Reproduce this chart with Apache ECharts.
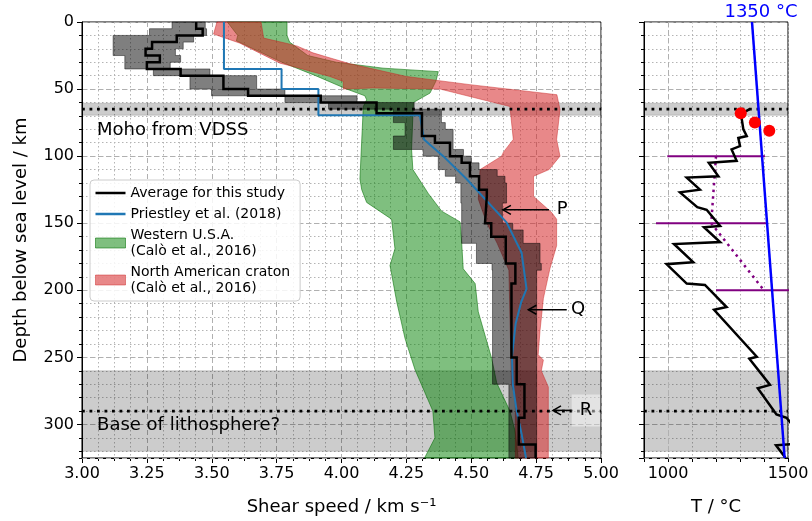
<!DOCTYPE html>
<html>
<head>
<meta charset="utf-8">
<script src="https://cdn.jsdelivr.net/npm/echarts@6/dist/echarts.min.js"></script>
<style>
html,body{margin:0;padding:0;background:#ffffff;}
#chart{width:812px;height:521px;}
</style>
</head>
<body>
<div id="chart"></div>
<script>
// ================= DATA =================
// Average for this study (stepped): layer boundaries (km) and shear speed per layer (km/s)
const avgDepth = [0,5,10,15,20,25,30,35,40,50,55,60,68,85,90,100,105,115,125,130,150,160,180,195,250,270,295,315,325];
const avgVs    = [3.44,3.465,3.365,3.27,3.245,3.30,3.25,3.38,3.545,3.64,3.92,4.135,4.31,4.36,4.418,4.463,4.495,4.53,4.56,4.553,4.577,4.633,4.67,4.655,4.675,4.705,4.683,4.748];

// Uncertainty envelope of the average (stepped)
const envDepth = [0,5,10,15,20,25,30,35,40,50,55,60,65,75,80,85,95,100,105,110,115,120,135,150,155,165,180,185,270,325];
const envLeft  = [3.347,3.26,3.12,3.12,3.12,3.165,3.165,3.275,3.416,3.499,3.782,3.95,4.20,4.245,4.245,4.20,4.315,4.373,4.373,4.40,4.44,4.46,4.463,4.463,4.463,4.52,4.58,4.582,4.645];
const envRight = [3.475,3.48,3.43,3.39,3.36,3.38,3.34,3.493,3.673,3.782,4.06,4.28,4.385,4.40,4.43,4.43,4.47,4.50,4.53,4.60,4.63,4.636,4.62,4.66,4.70,4.765,4.77,4.752,4.752];

// Priestley et al. (2018)
const priDepth = [0,35,35,50,50,69.5,69.5,87.5,100,117,149.4,172,199,209,225,249,270,290,307,325];
const priVs    = [3.547,3.547,3.769,3.769,3.911,3.911,4.302,4.318,4.392,4.482,4.636,4.694,4.713,4.692,4.671,4.657,4.66,4.675,4.694,4.711];

// Western U.S.A. (Calò et al., 2016): left and right edges
const wusLeftDepth  = [0,5,10,14,20,30,40,50,55,58,63,117,125,134.5,147,169,181.5,208.7,236,259,290,310,325];
const wusLeftVs     = [3.56,3.58,3.60,3.595,3.66,3.77,3.90,4.02,4.09,4.097,4.084,4.071,4.078,4.097,4.193,4.206,4.187,4.213,4.245,4.283,4.352,4.36,4.32];
const wusRightDepth = [0,10,15,25,30,34.4,37,44,53,60,95,110,128,141,149,164,184,195,216,251,269,290,305,325];
const wusRightVs    = [3.79,3.79,3.80,3.87,3.98,4.16,4.373,4.364,4.341,4.277,4.27,4.275,4.335,4.386,4.457,4.463,4.469,4.515,4.527,4.579,4.598,4.649,4.669,4.681];

// North American craton (Calò et al., 2016): outline
const nacVs    = [3.52,3.69,3.70,3.79,3.83,3.89,3.96,4.03,4.25,4.495,4.83,4.842,4.829,4.842,4.80,4.74,4.74,4.81,4.829,4.829,4.803,4.778,4.765,4.758,4.778,4.77,4.797,4.797,4.67,4.67,4.655,4.645,4.60,4.56,4.527,4.534,4.617,4.624,4.662,4.649,4.38,4.12,4.007,4.007,3.955,3.814,3.763,3.66,3.609,3.507];
const nacDepth = [0,0,12,16,18,23,27,31,40.6,46.7,54.2,65.3,87.5,100,110,115,130,142,147,166.7,184,206,230,248,252,260,272,325,325,280,270,185,165,150,132,110,100,97,87.5,63,50,49.2,50,44.3,40.6,33.2,30.7,20.8,15.8,9];

// Reference depths (km)
const mohoDepth = 65;
const mohoBand  = [60.5, 69.5];
const lithDepth = 290;
const lithBand  = [260, 320];

// Temperature panel
const adiabatT     = [1350, 1486];
const adiabatDepth = [0, 325];
const tempT     = [1340,1305,1307,1314,1328,1293,1300,1265,1286,1170,1210,1078,1133,1050,1122,1161,1217,1150,1217,1025,1105,994,1078,1154,1244,1192,1370,1339,1425,1374,1452,1494,1530,1560,1450,1490];
const tempDepth = [65,68.5,72,80,85,86.5,92.5,95,103.5,105,115,116,125,127,138,140,152,153,164,165.5,179,180.5,195,196,212.5,214.5,249.5,251,270.5,273,292.5,295,303,314,315.5,325];
const dotT     = [1303, 1362, 1422];
const dotDepth = [68, 75, 81];
const rangeDepth = [100, 150, 200];
const rangeLo    = [997, 950, 1200];
const rangeHi    = [1404, 1411, 1600];
const midT     = [1200, 1180, 1400];
const midDepth = [100, 150, 200];

// Tick labels of the temperature axis
const tTickLabels = [1000, 1500];

// Annotations P, Q, R
const arrowLabel = ['P', 'Q', 'R'];
const arrowDepth = [140, 214.5, 289.5];
const arrowFrom  = [4.80, 4.868, 4.89];
const arrowTo    = [4.622, 4.72, 4.815];
const arrowText  = [4.85, 4.912, 4.942];

// ================= HELPERS =================
const FONT = 'DejaVu Sans';
function stepLinePoints(depths, vals) {
  const pts = [];
  for (let i = 0; i < vals.length; i++) { pts.push([vals[i], depths[i]]); pts.push([vals[i], depths[i + 1]]); }
  return pts;
}
function stepBandPoints(depths, lo, hi) {
  const pts = [];
  for (let i = 0; i < hi.length; i++) { pts.push([hi[i], depths[i]], [hi[i], depths[i + 1]]); }
  for (let i = lo.length - 1; i >= 0; i--) { pts.push([lo[i], depths[i + 1]], [lo[i], depths[i]]); }
  return pts;
}
function twoSidePoints(ld, lv, rd, rv) {
  const pts = [];
  for (let i = 0; i < ld.length; i++) pts.push([lv[i], ld[i]]);
  for (let i = rd.length - 1; i >= 0; i--) pts.push([rv[i], rd[i]]);
  return pts;
}
function zipPoints(xs, ys) { return xs.map((x, i) => [x, ys[i]]); }

function polygonSeries(name, pts, fill, stroke, z) {
  return {
    type: 'custom', name: name, xAxisIndex: 0, yAxisIndex: 0, z: z, silent: true,
    itemStyle: { color: fill, borderColor: stroke },
    data: [[4, 150]],
    renderItem: function (params, api) {
      return { type: 'polygon', shape: { points: pts.map(p => api.coord(p)) },
               style: { fill: fill, stroke: stroke, lineWidth: 1 } };
    }
  };
}
function spanSeries(gi, xMid, band, z) {
  return {
    type: 'custom', xAxisIndex: gi, yAxisIndex: gi, z: z, silent: true,
    data: [[xMid, band[0], band[1]]],
    renderItem: function (params, api) {
      const cs = params.coordSys;
      const y0 = api.coord([api.value(0), api.value(1)])[1];
      const y1 = api.coord([api.value(0), api.value(2)])[1];
      return { type: 'rect', shape: { x: cs.x, y: y0, width: cs.width, height: y1 - y0 },
               style: { fill: 'rgba(0,0,0,0.2)', stroke: 'rgba(0,0,0,0.15)', lineWidth: 1 } };
    }
  };
}
function dottedSeries(gi, xMid, depths, z) {
  return {
    type: 'custom', xAxisIndex: gi, yAxisIndex: gi, z: z, silent: true,
    data: depths.map(d => [xMid, d]),
    renderItem: function (params, api) {
      const cs = params.coordSys;
      const y = api.coord([api.value(0), api.value(1)])[1];
      return { type: 'line', shape: { x1: cs.x, y1: y, x2: cs.x + cs.width, y2: y },
               style: { stroke: '#000', lineWidth: 2.8, lineDash: [2.8, 4.7], lineCap: 'butt' } };
    }
  };
}

const gridLineDashed = { color: '#b0b0b0', width: 1, type: [5, 3] };
const gridLineDotted = { color: '#b4b4b4', width: 1, type: [1.5, 2.5] };

const legendNames = {
  'Average for this study': 'Average for this study',
  'Priestley et al. (2018)': 'Priestley et al. (2018)',
  'Western U.S.A.': 'Western U.S.A.\n(Calò et al., 2016)',
  'North American craton': 'North American craton\n(Calò et al., 2016)'
};

const greenFill = 'rgba(0,128,0,0.5)';
const greenEdge = 'rgba(0,110,0,0.55)';
const redFill = 'rgba(214,39,40,0.55)';
const redEdge = 'rgba(200,30,30,0.45)';
const lineIcon = 'path://M0,0H30V2.5H0Z';

// depth axis factory: major (labelled, dashed grid every 50 km) and minor (dotted grid every 10 km)
function depthAxisMajor(gi, withLabels) {
  return {
    gridIndex: gi, type: 'value', inverse: true, min: 0, max: 325, interval: 50, position: 'left',
    name: withLabels ? 'Depth below sea level / km' : '', nameLocation: 'middle', nameGap: 52,
    nameTextStyle: { fontSize: 18, color: '#000', fontFamily: FONT },
    axisLine: { show: true, onZero: false, lineStyle: { color: '#000', width: 1 } },
    axisTick: { show: true, length: 5, lineStyle: { color: '#000' } },
    axisLabel: { show: withLabels, fontSize: 16, color: '#000', fontFamily: FONT, margin: 8, showMaxLabel: false },
    splitLine: { show: true, lineStyle: gridLineDashed }, z: 1
  };
}
function depthAxisMinor(gi) {
  return {
    gridIndex: gi, type: 'value', inverse: true, min: 0, max: 325, interval: 10, position: 'left', offset: 0,
    axisLine: { show: false },
    axisTick: { show: true, length: 3, lineStyle: { color: '#000' } },
    axisLabel: { show: false },
    splitLine: { show: true, lineStyle: gridLineDotted }, z: 0
  };
}

// ================= CHART =================
const chart = echarts.init(document.getElementById('chart'), null, { renderer: 'canvas' });
const option = {
  animation: false,
  backgroundColor: '#ffffff',
  textStyle: { fontFamily: FONT },
  grid: [
    { left: 82, top: 22, width: 519, height: 437, show: true, borderColor: '#000', borderWidth: 1, backgroundColor: 'transparent', containLabel: false },
    { left: 644, top: 22, width: 144, height: 437, show: true, borderColor: '#000', borderWidth: 1, backgroundColor: 'transparent', containLabel: false }
  ],
  xAxis: [
    {
      gridIndex: 0, type: 'value', min: 3, max: 5, interval: 0.25,
      name: 'Shear speed / km s\u207B\u00B9', nameLocation: 'middle', nameGap: 40,
      nameTextStyle: { fontSize: 18, color: '#000', fontFamily: FONT },
      axisLine: { show: true, onZero: false, lineStyle: { color: '#000', width: 1 } },
      axisTick: { show: true, length: 5, lineStyle: { color: '#000' } },
      minorTick: { show: true, splitNumber: 4, length: 3, lineStyle: { color: '#000' } },
      axisLabel: { fontSize: 16, color: '#000', fontFamily: FONT, margin: 8, formatter: v => v.toFixed(2) },
      splitLine: { show: true, lineStyle: gridLineDashed },
      minorSplitLine: { show: true, lineStyle: gridLineDotted }
    },
    {
      gridIndex: 1, type: 'value', min: 900, max: 1500, interval: 100,
      name: 'T / \u00B0C', nameLocation: 'middle', nameGap: 40,
      nameTextStyle: { fontSize: 18, color: '#000', fontFamily: FONT },
      axisLine: { show: true, onZero: false, lineStyle: { color: '#000', width: 1 } },
      axisTick: { show: true, length: 4, lineStyle: { color: '#000' } },
      axisLabel: { fontSize: 16, color: '#000', fontFamily: FONT, margin: 8, showMinLabel: true, showMaxLabel: true,
                   formatter: v => (tTickLabels.indexOf(v) >= 0 ? String(v) : '') },
      splitLine: { show: true, lineStyle: gridLineDotted }
    }
  ],
  yAxis: [
    depthAxisMajor(0, true),
    depthAxisMajor(1, false),
    depthAxisMinor(0),
    depthAxisMinor(1)
  ],
  legend: {
    left: 90, top: 180, orient: 'vertical',
    itemWidth: 30, itemHeight: 10, itemGap: 5, itemTextGap: 11,
    padding: [5, 10, 5, 5], symbolKeepAspect: true,
    backgroundColor: 'rgba(255,255,255,0.85)', borderColor: '#cccccc', borderWidth: 1, borderRadius: 4,
    textStyle: { fontFamily: FONT, fontSize: 14, color: '#000', lineHeight: 16 },
    selectedMode: false,
    formatter: n => legendNames[n] || n,
    data: [
      { name: 'Average for this study', icon: lineIcon, itemStyle: { color: '#000', borderWidth: 0 } },
      { name: 'Priestley et al. (2018)', icon: lineIcon, itemStyle: { color: '#1f77b4', borderWidth: 0 } },
      { name: 'Western U.S.A.', icon: 'rect', itemStyle: { color: greenFill, borderColor: greenEdge, borderWidth: 1 } },
      { name: 'North American craton', icon: 'rect', itemStyle: { color: redFill, borderColor: redEdge, borderWidth: 1 } }
    ]
  },
  series: [
    // shaded depth ranges
    spanSeries(0, 4, mohoBand, 1),
    spanSeries(0, 4, lithBand, 1),
    spanSeries(1, 1200, mohoBand, 1),
    spanSeries(1, 1200, lithBand, 1),
    // regional models
    polygonSeries('Western U.S.A.', twoSidePoints(wusLeftDepth, wusLeftVs, wusRightDepth, wusRightVs), greenFill, greenEdge, 2),
    polygonSeries('North American craton', zipPoints(nacVs, nacDepth), redFill, redEdge, 3),
    // envelope
    polygonSeries('envelope', stepBandPoints(envDepth, envLeft, envRight), 'rgba(0,0,0,0.5)', 'rgba(0,0,0,0.45)', 4),
    // Priestley
    { type: 'line', name: 'Priestley et al. (2018)', xAxisIndex: 0, yAxisIndex: 0, z: 5, symbol: 'none', silent: true,
      data: zipPoints(priVs, priDepth), lineStyle: { color: '#1f77b4', width: 2 }, itemStyle: { color: '#1f77b4' } },
    // Average
    { type: 'line', name: 'Average for this study', xAxisIndex: 0, yAxisIndex: 0, z: 6, symbol: 'none', silent: true,
      data: stepLinePoints(avgDepth, avgVs), lineStyle: { color: '#000', width: 2.5, join: 'miter' }, itemStyle: { color: '#000' } },
    // dotted reference lines
    dottedSeries(0, 4, [mohoDepth, lithDepth], 7),
    dottedSeries(1, 1200, [mohoDepth, lithDepth], 7),
    // text annotations
    {
      type: 'custom', xAxisIndex: 0, yAxisIndex: 0, z: 9, silent: true,
      data: [[3.058, 80.9], [3.058, 300.4]],
      renderItem: function (params, api) {
        const p = api.coord([api.value(0), api.value(1)]);
        const txt = ['Moho from VDSS', 'Base of lithosphere?'][params.dataIndex];
        return { type: 'text', x: p[0], y: p[1], style: { text: txt, fill: '#000', fontSize: 18, fontFamily: FONT, align: 'left', verticalAlign: 'middle' } };
      }
    },
    {
      type: 'custom', xAxisIndex: 0, yAxisIndex: 0, z: 9, silent: true,
      data: arrowDepth.map((d, i) => [arrowFrom[i], d, arrowTo[i], arrowText[i]]),
      renderItem: function (params, api) {
        const i = params.dataIndex;
        const p0 = api.coord([api.value(0), api.value(1)]);
        const p1 = api.coord([api.value(2), api.value(1)]);
        const pl = api.coord([api.value(3), api.value(1)]);
        const textStyle = { text: arrowLabel[i], fill: '#000', fontSize: 18, fontFamily: FONT, align: 'center', verticalAlign: 'middle' };
        if (i === 2) { textStyle.backgroundColor = 'rgba(255,255,255,0.45)'; textStyle.padding = [7, 8]; }
        return { type: 'group', children: [
          { type: 'line', shape: { x1: p0[0], y1: p0[1], x2: p1[0], y2: p1[1] }, style: { stroke: '#000', lineWidth: 1.5 } },
          { type: 'polyline', shape: { points: [[p1[0] + 8, p1[1] - 4.5], [p1[0], p1[1]], [p1[0] + 8, p1[1] + 4.5]] }, style: { stroke: '#000', lineWidth: 1.5, fill: 'none' } },
          { type: 'text', x: pl[0], y: pl[1], style: textStyle }
        ] };
      }
    },
    // ---------- temperature panel ----------
    { type: 'line', xAxisIndex: 1, yAxisIndex: 1, z: 2, symbol: 'none', silent: true, data: [],
      markLine: { silent: true, symbol: 'none', label: { show: false }, data: [{ xAxis: 1000 }],
                  lineStyle: { color: '#b0b0b0', width: 1, type: [5, 3] } } },
    ...rangeDepth.map((d, i) => ({
      type: 'line', xAxisIndex: 1, yAxisIndex: 1, z: 5, symbol: 'none', silent: true, clip: true,
      data: [[rangeLo[i], d], [rangeHi[i], d]], lineStyle: { color: '#800080', width: 2 }
    })),
    { type: 'line', xAxisIndex: 1, yAxisIndex: 1, z: 5, symbol: 'none', silent: true, clip: true,
      data: zipPoints(midT, midDepth), lineStyle: { color: '#800080', width: 2.5, type: [2.5, 4.2], cap: 'butt' } },
    { type: 'line', xAxisIndex: 1, yAxisIndex: 1, z: 6, symbol: 'none', silent: true, clip: true,
      data: zipPoints(tempT, tempDepth), lineStyle: { color: '#000', width: 2.5, join: 'miter' } },
    { type: 'line', xAxisIndex: 1, yAxisIndex: 1, z: 7, symbol: 'none', silent: true, clip: true,
      data: zipPoints(adiabatT, adiabatDepth), lineStyle: { color: '#0000ff', width: 2.5 } },
    { type: 'scatter', xAxisIndex: 1, yAxisIndex: 1, z: 8, silent: true, symbolSize: 12,
      data: zipPoints(dotT, dotDepth), itemStyle: { color: '#ff0000', opacity: 1 } },
    {
      type: 'custom', xAxisIndex: 1, yAxisIndex: 1, z: 9, silent: true,
      data: [[adiabatT[0], adiabatDepth[0]]],
      renderItem: function (params, api) {
        const p = api.coord([api.value(0), api.value(1)]);
        return { type: 'text', x: p[0] + 9, y: p[1] - 10, style: { text: '1350 \u00B0C', fill: '#0000ff', fontSize: 18, fontFamily: FONT, align: 'center', verticalAlign: 'middle' } };
      }
    }
  ]
};
chart.setOption(option);
</script>
</body>
</html>
